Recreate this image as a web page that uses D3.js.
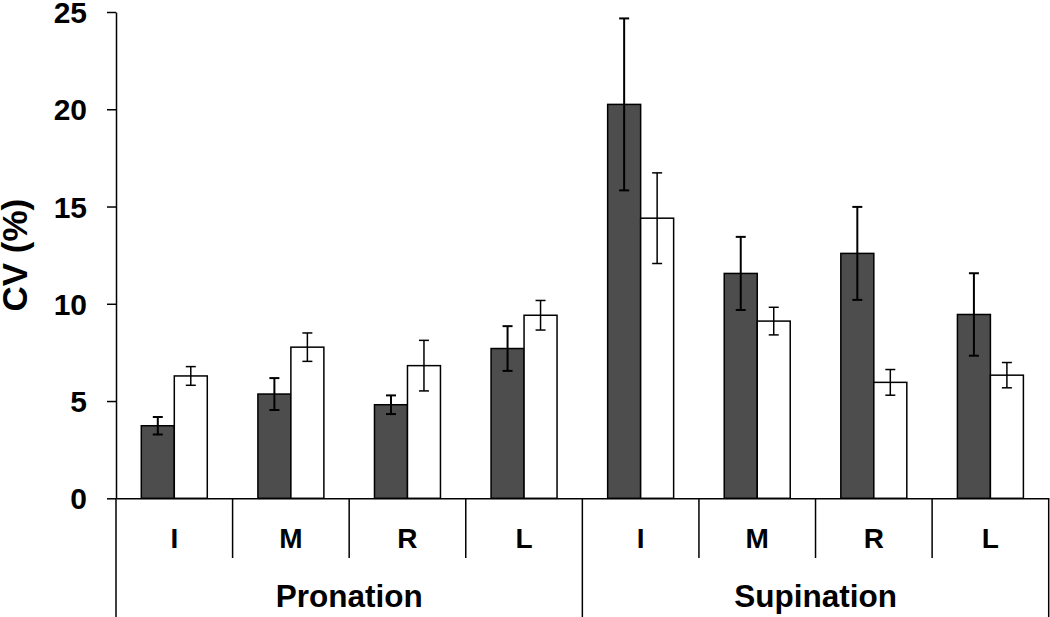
<!DOCTYPE html>
<html>
<head>
<meta charset="utf-8">
<script src="https://cdn.jsdelivr.net/npm/d3@7"></script>
<style>
  html, body { margin: 0; padding: 0; background: #fff; }
  svg { display: block; font-family: "Liberation Sans", Arial, sans-serif; }
</style>
</head>
<body>
<svg id="chart" width="1050" height="617"></svg>
<script>
// ---- data ----
const groups = ["Pronation", "Supination"];
const fingers = ["I", "M", "R", "L"];
const seriesNames = ["dark", "white"];
const darkValues  = [3.73, 5.36, 4.81, 7.70, 20.25, 11.56, 12.59, 9.45];
const darkErrors  = [0.45, 0.82, 0.48, 1.15, 4.42, 1.88, 2.39, 2.12];
const whiteValues = [6.29, 7.77, 6.82, 9.41, 14.40, 9.11, 5.96, 6.33];
const whiteErrors = [0.48, 0.73, 1.30, 0.76, 2.33, 0.71, 0.66, 0.65];
const yTicks = [0, 5, 10, 15, 20, 25];
const yTitle = "CV (%)";

// ---- layout ----
const svg = d3.select("#chart");
const plotLeft = 116, plotRight = 1048.7, plotTop = 12, plotBottom = 498.3;

const cats = [];
groups.forEach(g => fingers.forEach(f => cats.push({ key: g + "-" + f, group: g, finger: f })));
const rows = cats.map((c, i) => ({
  ...c,
  vals: [
    { s: "dark", v: darkValues[i], e: darkErrors[i] },
    { s: "white", v: whiteValues[i], e: whiteErrors[i] }
  ]
}));

const x0 = d3.scaleBand().domain(cats.map(c => c.key)).range([plotLeft, plotRight]).padding(0);
const x1 = d3.scaleBand().domain(seriesNames).range([0, x0.bandwidth()]).paddingInner(0).paddingOuter(0.767);
const y = d3.scaleLinear().domain([0, 25]).range([plotBottom, plotTop]);
const gx = d3.scaleBand().domain(groups).range([plotLeft, plotRight]).padding(0);

const fill = { dark: "#4d4d4d", white: "#ffffff" };
const errW = { dark: 2, white: 1.5 };

// bars
const catG = svg.append("g").selectAll("g").data(rows).join("g")
  .attr("transform", d => `translate(${x0(d.key)},0)`);
catG.selectAll("rect").data(d => d.vals).join("rect")
  .attr("x", d => x1(d.s))
  .attr("width", x1.bandwidth())
  .attr("y", d => y(d.v))
  .attr("height", d => y(0) - y(d.v))
  .attr("fill", d => fill[d.s])
  .attr("stroke", "#000")
  .attr("stroke-width", 1.5);

// error bars
const eb = catG.selectAll("g.err").data(d => d.vals).join("g").attr("class", "err")
  .attr("stroke", "#000").attr("stroke-width", d => errW[d.s]);
const cx = d => x1(d.s) + x1.bandwidth() / 2;
eb.append("line").attr("x1", cx).attr("x2", cx).attr("y1", d => y(d.v + d.e)).attr("y2", d => y(d.v - d.e));
eb.append("line").attr("x1", d => cx(d) - 5).attr("x2", d => cx(d) + 5).attr("y1", d => y(d.v + d.e)).attr("y2", d => y(d.v + d.e));
eb.append("line").attr("x1", d => cx(d) - 5).attr("x2", d => cx(d) + 5).attr("y1", d => y(d.v - d.e)).attr("y2", d => y(d.v - d.e));

// y axis
const yAxis = svg.append("g").attr("transform", `translate(${plotLeft},0)`)
  .call(d3.axisLeft(y).tickValues(yTicks).tickFormat(d3.format("d")).tickSize(9).tickSizeOuter(0).tickPadding(20));
yAxis.select(".domain").attr("stroke", "#000").attr("stroke-width", 1.5);
yAxis.selectAll(".tick line").attr("stroke", "#000").attr("stroke-width", 1.5);
yAxis.selectAll(".tick text").attr("font-size", 30).attr("font-weight", "bold").attr("fill", "#000")
  .attr("dy", null).attr("dominant-baseline", "central");

// extend y axis line down through the category area
svg.append("line").attr("x1", plotLeft).attr("x2", plotLeft).attr("y1", y(0)).attr("y2", 617)
  .attr("stroke", "#000").attr("stroke-width", 1.5);

// x axis baseline
const xAxis = svg.append("g").attr("transform", `translate(0,${y(0)})`)
  .call(d3.axisBottom(x0).tickSize(0).tickPadding(0).tickFormat(k => cats.find(c => c.key === k).finger));
xAxis.select(".domain").attr("stroke", "#000").attr("stroke-width", 1.5);
xAxis.selectAll(".tick text").attr("font-size", 28).attr("font-weight", "bold").attr("fill", "#000")
  .attr("y", 50).attr("dy", null);

// category dividers
const catEdges = cats.slice(1).map(c => x0(c.key)).filter(v => !groups.some(g => Math.abs(gx(g) - v) < 0.5));
svg.append("g").selectAll("line").data(catEdges).join("line")
  .attr("x1", d => d).attr("x2", d => d).attr("y1", y(0)).attr("y2", 558)
  .attr("stroke", "#000").attr("stroke-width", 1.5);

// group dividers
const groupEdges = groups.slice(1).map(g => gx(g)).concat([plotRight]);
svg.append("g").selectAll("line").data(groupEdges).join("line")
  .attr("x1", d => d).attr("x2", d => d).attr("y1", y(0)).attr("y2", 617)
  .attr("stroke", "#000").attr("stroke-width", 1.5);

// group labels
svg.append("g").selectAll("text").data(groups).join("text")
  .attr("x", g => gx(g) + gx.bandwidth() / 2)
  .attr("y", 607)
  .attr("text-anchor", "middle")
  .attr("font-size", 31.5).attr("font-weight", "bold").attr("fill", "#000")
  .text(g => g);

// y title
svg.append("text")
  .attr("transform", `translate(27,${(plotTop + plotBottom) / 2}) rotate(-90)`)
  .attr("text-anchor", "middle")
  .attr("font-size", 35).attr("font-weight", "bold").attr("fill", "#000")
  .text(yTitle);
</script>
</body>
</html>
